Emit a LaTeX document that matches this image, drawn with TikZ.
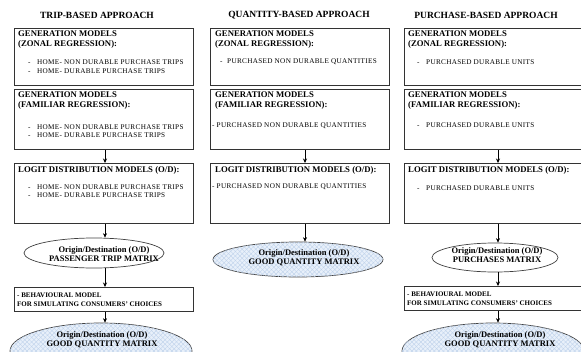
\documentclass[tikz,border=0pt]{standalone}
\usepackage{fontspec}
\setmainfont{Liberation Serif}
\newfontfamily\itmfont[LetterSpace=4.5]{Liberation Serif}
\usetikzlibrary{shapes.geometric,patterns.meta,arrows.meta}
\definecolor{hatchbg}{RGB}{232,240,250}
\definecolor{hatchln}{RGB}{188,208,234}
\begin{document}
\begin{tikzpicture}[x=1pt,y=-1pt,
 box/.style={draw=black!80, line width=0.8pt, rectangle, anchor=north west, minimum width=179pt, inner sep=0pt},
 ttl/.style={font=\fontsize{9.5}{11}\selectfont\bfseries, inner sep=0pt},
 hdr/.style={font=\fontsize{8.7}{10}\selectfont\bfseries, align=left, anchor=north west, inner sep=0pt},
 itm/.style={font=\itmfont\fontsize{7.2}{8.5}\selectfont, anchor=west, inner sep=0pt},
 bhv/.style={font=\fontsize{7}{9}\selectfont\bfseries, anchor=west, inner sep=0pt},
 ell/.style={draw=black!75, line width=0.7pt, ellipse, inner sep=0pt},
 etx/.style={font=\fontsize{8.5}{9}\selectfont\bfseries, align=center, inner sep=0pt},
 hatch/.style={fill=hatchbg,
   postaction={pattern={Lines[angle=45,distance=3.2pt,line width=0.35pt]}, pattern color=hatchln},
   postaction={pattern={Lines[angle=-45,distance=3.2pt,line width=0.35pt]}, pattern color=hatchln}},
 arr/.style={-{Stealth[length=4.5pt,width=4pt]}, line width=0.6pt}
]
\useasboundingbox (0,0) rectangle (581,351);
\clip (0,0) rectangle (581,351);

% titles
\node[ttl] (t1) at (97,15) {TRIP-BASED APPROACH};
\node[ttl] (t2) at (299,15) {QUANTITY-BASED APPROACH};
\node[ttl] (t3) at (486,15) {PURCHASE-BASED APPROACH};

% ---------- column 1
\node[box, minimum height=57pt] (b11) at (14,28) {};
\node[box, minimum height=60pt] (b12) at (14,89) {};
\node[box, minimum height=60pt] (b13) at (14,163) {};
\node[hdr] (h11) at (18,31) {GENERATION MODELS\\(ZONAL REGRESSION):};
\node[hdr] (h12) at (18,92) {GENERATION MODELS\\(FAMILIAR REGRESSION):};
\node[hdr] (h13) at (18,166) {LOGIT DISTRIBUTION MODELS (O/D):};
\node[itm] (i111) at (28,62) {\makebox[9pt][l]{-}HOME- NON DURABLE PURCHASE TRIPS};
\node[itm] (i112) at (28,71) {\makebox[9pt][l]{-}HOME- DURABLE PURCHASE TRIPS};
\node[itm] (i121) at (28,127) {\makebox[9pt][l]{-}HOME- NON DURABLE PURCHASE TRIPS};
\node[itm] (i122) at (28,135) {\makebox[9pt][l]{-}HOME- DURABLE PURCHASE TRIPS};
\node[itm] (i131) at (28,187) {\makebox[9pt][l]{-}HOME- NON DURABLE PURCHASE TRIPS};
\node[itm] (i132) at (28,195) {\makebox[9pt][l]{-}HOME- DURABLE PURCHASE TRIPS};

\node[ell, minimum width=140pt, minimum height=30pt] (e11) at (94,253) {};
\node[etx] (x11) at (104,254) {Origin/Destination (O/D)\\PASSENGER TRIP MATRIX};
\node[box, minimum height=24pt] (bh1) at (14,287) {};
\node[bhv] (y11) at (17,295) {- BEHAVIOURAL MODEL};
\node[bhv] (y12) at (17,304) {FOR SIMULATING CONSUMERS’ CHOICES};
\node[ell, hatch, minimum width=182pt, minimum height=56pt] (e12) at (101,351) {};
\node[etx] (x12) at (102,339.5) {Origin/Destination (O/D)\\GOOD QUANTITY MATRIX};

\coordinate (a1) at (105,0);
\draw[arr] (b12.south -| a1) -- (b13.north -| a1);
\draw[arr] (b13.south -| a1) -- (e11.north -| a1);
\draw[arr] (e11.south -| a1) -- (bh1.north -| a1);
\draw[arr] (bh1.south -| a1) -- (e12.north -| a1);

% ---------- column 2
\node[box, minimum height=57pt] (b21) at (210,28) {};
\node[box, minimum height=60pt] (b22) at (210,89) {};
\node[box, minimum height=60pt] (b23) at (210,163) {};
\node[hdr] (h21) at (215,31) {GENERATION MODELS\\(ZONAL REGRESSION):};
\node[hdr] (h22) at (215,92) {GENERATION MODELS\\(FAMILIAR REGRESSION):};
\node[hdr] (h23) at (215,166) {LOGIT DISTRIBUTION MODELS (O/D):};
\node[itm] (i211) at (220,62) {\makebox[7pt][l]{-}PURCHASED NON DURABLE QUANTITIES};
\node[itm] (i221) at (212,126) {- PURCHASED NON DURABLE QUANTITIES};
\node[itm] (i231) at (212,187) {- PURCHASED NON DURABLE QUANTITIES};
\node[ell, hatch, minimum width=170pt, minimum height=35pt] (e21) at (298,259.5) {};
\node[etx] (x21) at (304,258) {Origin/Destination (O/D)\\GOOD QUANTITY MATRIX};

\coordinate (a2) at (305,0);
\draw[arr] (b22.south -| a2) -- (b23.north -| a2);
\draw[arr] (b23.south -| a2) -- (e21.north -| a2);

% ---------- column 3
\node[box, minimum width=182pt, minimum height=57pt] (b31) at (404,28) {};
\node[box, minimum width=182pt, minimum height=60pt] (b32) at (404,89) {};
\node[box, minimum width=182pt, minimum height=60pt] (b33) at (404,163) {};
\node[hdr] (h31) at (408,31) {GENERATION MODELS\\(ZONAL REGRESSION):};
\node[hdr] (h32) at (408,92) {GENERATION MODELS\\(FAMILIAR REGRESSION):};
\node[hdr] (h33) at (408,166) {LOGIT DISTRIBUTION MODELS (O/D):};
\node[itm] (i311) at (417,62) {\makebox[9pt][l]{-}PURCHASED DURABLE UNITS};
\node[itm] (i321) at (417,125) {\makebox[9pt][l]{-}PURCHASED DURABLE UNITS};
\node[itm] (i331) at (417,188) {\makebox[9pt][l]{-}PURCHASED DURABLE UNITS};

\node[ell, minimum width=126pt, minimum height=29pt] (e31) at (495,257.5) {};
\node[etx] (x31) at (497,255) {Origin/Destination (O/D)\\PURCHASES MATRIX};
\node[box, minimum width=182pt, minimum height=24pt] (bh3) at (404,286) {};
\node[bhv] (y31) at (407,294) {- BEHAVIOURAL MODEL};
\node[bhv] (y32) at (407,303) {FOR SIMULATING CONSUMERS’ CHOICES};
\node[ell, hatch, minimum width=182pt, minimum height=56pt] (e32) at (493,351) {};
\node[etx] (x32) at (500,339.5) {Origin/Destination (O/D)\\GOOD QUANTITY MATRIX};

\coordinate (a3) at (498,0);
\draw[arr] (b32.south -| a3) -- (b33.north -| a3);
\draw[arr] (b33.south -| a3) -- (e31.north -| a3);
\draw[arr] (e31.south -| a3) -- (bh3.north -| a3);
\draw[arr] (bh3.south -| a3) -- (e32.north -| a3);
\end{tikzpicture}
\end{document}
